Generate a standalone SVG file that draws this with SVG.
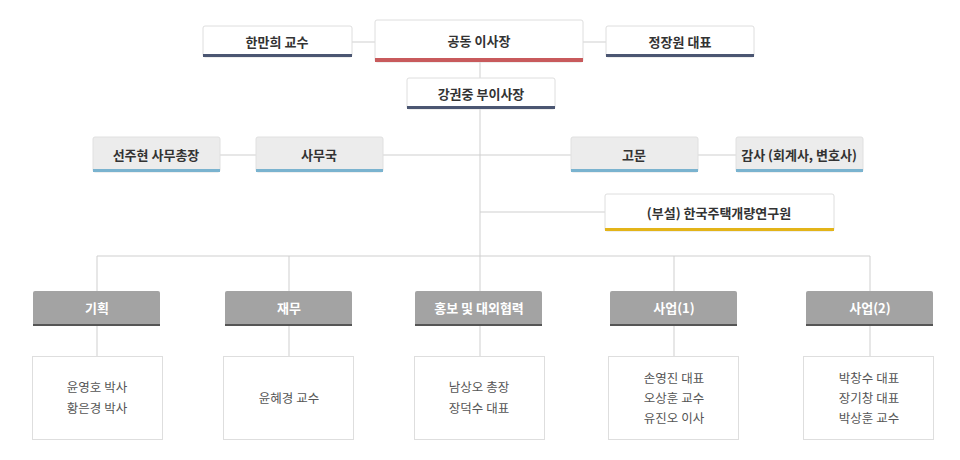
<svg xmlns="http://www.w3.org/2000/svg" width="960" height="460" viewBox="0 0 960 460">
<style>
text{font-family:"Noto Sans CJK KR","Noto Sans",sans-serif;text-anchor:middle;dominant-baseline:central}
.w{fill:#fff;stroke:#dedede}
.b{font-size:13px;font-weight:bold;fill:#333}
.lg{fill:#ececec;stroke:#e0e0e0}
.g{fill:#a3a3a3}
.gt{font-size:13px;font-weight:bold;fill:#fff}
.m{font-size:12.5px;fill:#555}
.c{stroke:#cfcfcf;stroke-width:1;fill:none}
</style>
<rect width="960" height="460" fill="#fff"/>
<g id="connectors">
<path class="c" d="M352 42H375M583 42H606M480 62V256M220 155H256M383 155H571M698 155H736M480 212H605M97 256H870M97 256V291M289 256V291M480 256V291M674 256V291M870 256V291M97 326V356M289 326V356M480 326V356M674 326V356M870 326V356"/>
</g>
<g id="n1"><rect class="w" x="375" y="20" width="208" height="42" rx="2"/><rect x="375" y="58" width="208" height="4" fill="#c85a5c"/><text class="b" x="479" y="40" font-size="16">공동  이사장</text></g>
<g id="n2"><rect class="w" x="203" y="26" width="149" height="31" rx="2"/><rect x="203" y="54" width="149" height="3" fill="#4b5672"/><text class="b" x="277" y="41">한만희 교수</text></g>
<g id="n3"><rect class="w" x="606" y="26" width="148" height="31" rx="2"/><rect x="606" y="54" width="148" height="3" fill="#4b5672"/><text class="b" x="680" y="41">정장원 대표</text></g>
<g id="n4"><rect class="w" x="407" y="78" width="148" height="31" rx="2"/><rect x="407" y="106" width="148" height="3" fill="#4b5672"/><text class="b" x="481" y="93">강권중 부이사장</text></g>
<g id="n5"><rect class="lg" x="93" y="137" width="127" height="35" rx="2"/><rect x="93" y="169" width="127" height="3" fill="#7ab3cf"/><text class="b" x="156" y="154">선주현 사무총장</text></g>
<g id="n6"><rect class="lg" x="256" y="137" width="127" height="35" rx="2"/><rect x="256" y="169" width="127" height="3" fill="#7ab3cf"/><text class="b" x="319" y="154">사무국</text></g>
<g id="n7"><rect class="lg" x="571" y="137" width="127" height="35" rx="2"/><rect x="571" y="169" width="127" height="3" fill="#7ab3cf"/><text class="b" x="634" y="154">고문</text></g>
<g id="n8"><rect class="lg" x="736" y="137" width="127" height="35" rx="2"/><rect x="736" y="169" width="127" height="3" fill="#7ab3cf"/><text class="b" x="799" y="154">감사 (회계사, 변호사)</text></g>
<g id="n9"><rect class="w" x="605" y="194" width="229" height="37" rx="2"/><rect x="605" y="228" width="229" height="3" fill="#e3b419"/><text class="b" x="719" y="212">(부설) 한국주택개량연구원</text></g>
<g id="d1"><rect class="g" x="33" y="291" width="127" height="35" rx="2"/><rect x="33" y="324" width="127" height="2" fill="#555"/><text class="gt" x="97" y="307">기획</text></g>
<g id="d2"><rect class="g" x="225" y="291" width="127" height="35" rx="2"/><rect x="225" y="324" width="127" height="2" fill="#555"/><text class="gt" x="289" y="307">재무</text></g>
<g id="d3"><rect class="g" x="415" y="291" width="127" height="35" rx="2"/><rect x="415" y="324" width="127" height="2" fill="#555"/><text class="gt" x="479" y="307">홍보 및 대외협력</text></g>
<g id="d4"><rect class="g" x="610" y="291" width="127" height="35" rx="2"/><rect x="610" y="324" width="127" height="2" fill="#555"/><text class="gt" x="674" y="307">사업(1)</text></g>
<g id="d5"><rect class="g" x="806" y="291" width="127" height="35" rx="2"/><rect x="806" y="324" width="127" height="2" fill="#555"/><text class="gt" x="870" y="307">사업(2)</text></g>
<g id="p1"><rect class="w" x="32.5" y="356.5" width="130" height="83"/><text class="m" x="97" y="386">윤영호 박사</text><text class="m" x="97" y="407">황은경 박사</text></g>
<g id="p2"><rect class="w" x="223.5" y="356.5" width="130" height="83"/><text class="m" x="289" y="397">윤혜경 교수</text></g>
<g id="p3"><rect class="w" x="414.5" y="356.5" width="130" height="83"/><text class="m" x="479" y="386">남상오 총장</text><text class="m" x="479" y="407">장덕수 대표</text></g>
<g id="p4"><rect class="w" x="608.5" y="356.5" width="130" height="83"/><text class="m" x="674" y="377">손영진 대표</text><text class="m" x="674" y="397">오상훈 교수</text><text class="m" x="674" y="417">유진오 이사</text></g>
<g id="p5"><rect class="w" x="803.5" y="356.5" width="130" height="83"/><text class="m" x="869" y="377">박창수 대표</text><text class="m" x="869" y="397">장기창 대표</text><text class="m" x="869" y="417">박상훈 교수</text></g>
</svg>
